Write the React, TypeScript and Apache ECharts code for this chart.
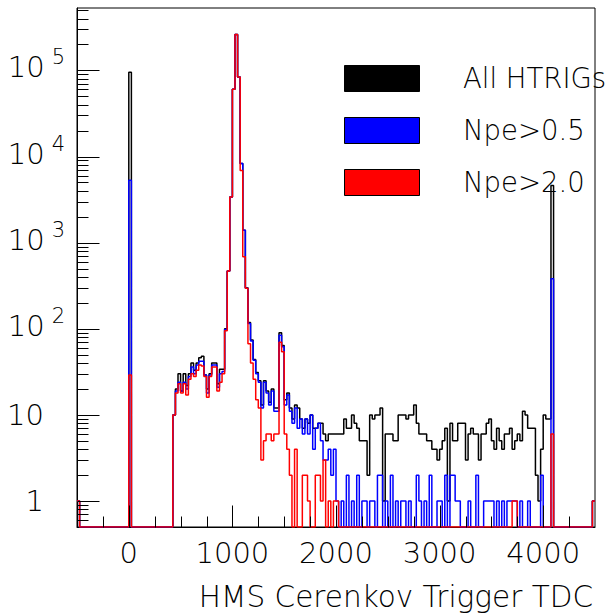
import React, { useEffect, useRef } from 'react';
import * as echarts from 'echarts';

// Histogram binning (TDC channels)
const BIN_LOW = -500;
const BIN_WIDTH = 25;
const X_MIN = -500;
const X_MAX = 4500;
const Y_MIN = 0.5;
const Y_MAX = 530000;

const seriesNames = ['All HTRIGs', 'Npe>0.5', 'Npe>2.0'];
const seriesColors = ['#000000', '#0000ff', '#ff0000'];
const xTitle = 'HMS Cerenkov Trigger TDC';

const xLabelValues = [0, 1000, 2000, 3000, 4000];
const xMajorTicks = [0, 1000, 2000, 3000, 4000];
const xMinorTicks = [-250, 250, 500, 750, 1250, 1500, 1750, 2250, 2500, 2750, 3250, 3500, 3750, 4250];
const yMajorTicks = [1, 10, 100, 1000, 10000, 100000];
const yMinorTicks = [
  0.6, 0.7, 0.8, 0.9,
  2, 3, 4, 5, 6, 7, 8, 9,
  20, 30, 40, 50, 60, 70, 80, 90,
  200, 300, 400, 500, 600, 700, 800, 900,
  2000, 3000, 4000, 5000, 6000, 7000, 8000, 9000,
  20000, 30000, 40000, 50000, 60000, 70000, 80000, 90000,
  200000, 300000, 400000, 500000,
];

// 200 bins, 25 channels wide, from -500 to 4500
const allHtrigs = [
  1, 0, 0, 0, 0, 0, 0, 0, 0, 0,
  0, 0, 0, 0, 0, 0, 0, 0, 0, 0,
  95000, 0, 0, 0, 0, 0, 0, 0, 0, 0,
  0, 0, 0, 0, 0, 0, 0, 10, 20, 30,
  19, 30, 22, 30, 40, 33, 40, 46, 48, 29,
  20, 30, 40, 40, 23, 34, 34, 100, 470, 3400,
  60500, 261000, 84000, 8300, 1390, 300, 118, 74, 44, 31,
  25, 13, 25, 19, 14, 20, 12, 12, 90, 64,
  15, 18, 12, 9, 13, 12, 9, 7, 9, 8,
  10, 7, 7, 8, 8, 6, 5, 6, 6, 6,
  6, 6, 6, 9, 7, 7, 10, 8, 7, 5,
  5, 5, 2, 10, 9, 10, 10, 12, 1, 6,
  6, 6, 5, 5, 10, 10, 10, 9, 10, 10,
  13, 8, 6, 6, 6, 5, 5, 4, 4, 3,
  4, 5, 7, 1, 8, 5, 5, 8, 8, 8,
  3, 6, 7, 6, 6, 3, 6, 6, 8, 9,
  5, 4, 7, 5, 4, 6, 6, 7, 4, 5,
  6, 5, 11, 10, 7, 7, 7, 2, 1, 4,
  10, 9, 9, 4600, 0, 0, 0, 0, 0, 0,
  0, 0, 0, 0, 0, 0, 0, 0, 0, 1,
];

const npeOver05 = [
  1, 0, 0, 0, 0, 0, 0, 0, 0, 0,
  0, 0, 0, 0, 0, 0, 0, 0, 0, 0,
  5300, 0, 0, 0, 0, 0, 0, 0, 0, 0,
  0, 0, 0, 0, 0, 0, 0, 10, 19, 24,
  19, 24, 20, 28, 36, 30, 38, 42, 42, 29,
  18, 29, 38, 38, 21, 30, 32, 98, 470, 3400,
  60500, 261000, 84000, 8300, 1390, 295, 115, 72, 43, 30,
  24, 12, 24, 18, 13, 19, 11, 11, 84, 62,
  13, 17, 11, 8, 12, 7, 9, 6, 9, 6,
  10, 4, 7, 8, 5, 3, 3, 4, 2, 4,
  1, 0, 1, 0, 2, 0, 1, 0, 2, 0,
  1, 1, 0, 1, 1, 0, 2, 2, 0, 1,
  0, 2, 0, 1, 0, 1, 1, 0, 1, 0,
  0, 2, 1, 0, 1, 0, 2, 0, 0, 1,
  1, 0, 2, 0, 2, 2, 1, 1, 0, 0,
  0, 1, 0, 0, 2, 0, 0, 1, 1, 1,
  1, 0, 1, 0, 1, 0, 1, 1, 1, 1,
  0, 1, 0, 0, 1, 0, 0, 0, 0, 2,
  0, 0, 0, 380, 0, 0, 0, 0, 0, 0,
  0, 0, 0, 0, 0, 0, 0, 0, 0, 1,
];

const npeOver20 = [
  1, 0, 0, 0, 0, 0, 0, 0, 0, 0,
  0, 0, 0, 0, 0, 0, 0, 0, 0, 0,
  29, 0, 0, 0, 0, 0, 0, 0, 0, 0,
  0, 0, 0, 0, 0, 0, 0, 10, 18, 23,
  18, 23, 17, 26, 30, 28, 33, 38, 37, 28,
  16, 28, 36, 36, 19, 24, 30, 95, 470, 3400,
  60500, 261000, 84000, 6900, 685, 295, 67, 40, 26, 15,
  12, 3, 5, 6, 6, 5, 6, 6, 70, 54,
  6, 4, 2, 0, 4, 0, 0, 2, 2, 1,
  0, 0, 2, 2, 1, 3, 0, 1, 0, 1,
  1, 0, 0, 0, 0, 0, 0, 0, 0, 0,
  0, 0, 0, 0, 0, 0, 0, 0, 0, 0,
  0, 0, 0, 0, 0, 0, 0, 0, 0, 0,
  0, 0, 0, 0, 0, 0, 0, 0, 0, 0,
  0, 0, 0, 0, 0, 0, 0, 0, 0, 0,
  0, 0, 0, 0, 0, 0, 0, 0, 0, 0,
  0, 0, 0, 0, 0, 0, 0, 0, 1, 1,
  0, 0, 0, 0, 0, 0, 0, 0, 0, 0,
  0, 0, 0, 6, 0, 0, 0, 0, 0, 0,
  0, 0, 0, 0, 0, 0, 0, 0, 0, 1,
];

const FONT = "'DejaVu Sans', sans-serif";
const FW = 200;

function stepPoints(vals: number[]) {
  const pts: number[][] = vals.map((v, i) => [BIN_LOW + i * BIN_WIDTH, v > 0 ? v : Y_MIN]);
  const last = vals[vals.length - 1];
  pts.push([BIN_LOW + vals.length * BIN_WIDTH, last > 0 ? last : Y_MIN]);
  return pts;
}

function tickSeries(data: number[][], horizontal: boolean) {
  return {
    type: 'custom',
    silent: true,
    z: 20,
    clip: false,
    data,
    encode: { x: 0, y: 1 },
    renderItem: (_params: any, api: any) => {
      const p = api.coord([api.value(0), api.value(1)]);
      const len = api.value(2) ? 22 : 11;
      const x = Math.round(p[0]) + 0.5;
      const y = Math.round(p[1]) + 0.5;
      const shape = horizontal
        ? { x1: x, y1: y, x2: x + len, y2: y }
        : { x1: x, y1: y, x2: x, y2: y - len };
      return { type: 'line', shape, style: { stroke: '#000', lineWidth: 1 } };
    },
  };
}

function yLabel(v: number) {
  const e = Math.log10(v);
  const k = Math.round(e);
  if (Math.abs(e - k) > 1e-6 || k < 0) return '';
  if (k === 0) return '{n|1}';
  if (k === 1) return '{n|10}';
  return '{b|10}{s|' + k + '}';
}

export default function App() {
  const ref = useRef<HTMLDivElement>(null);
  useEffect(() => {
    if (!ref.current) return;
    const chart = echarts.init(ref.current, undefined, { renderer: 'svg' });
    const hist = [allHtrigs, npeOver05, npeOver20];
    const xTickData = [
      ...xMajorTicks.map((v) => [v, Y_MIN, 1]),
      ...xMinorTicks.map((v) => [v, Y_MIN, 0]),
    ];
    const yTickData = [
      ...yMajorTicks.map((v) => [X_MIN, v, 1]),
      ...yMinorTicks.map((v) => [X_MIN, v, 0]),
    ];
    const legendTop = [65, 117, 169];
    const graphic: any[] = [];
    seriesNames.forEach((name, i) => {
      graphic.push({
        type: 'rect',
        shape: { x: 344.5, y: legendTop[i] + 0.5, width: 75, height: 26 },
        style: { fill: seriesColors[i], stroke: '#000', lineWidth: 1 },
        z: 30,
      });
      graphic.push({
        type: 'text',
        x: 463,
        y: legendTop[i] + 13,
        style: {
          text: name, fill: '#000', fontSize: 27.5, fontFamily: FONT, fontWeight: FW,
          align: 'left', verticalAlign: 'middle',
        },
        z: 30,
      });
    });
    graphic.push({
      type: 'text',
      x: 593,
      y: 597,
      style: {
        text: xTitle, fill: '#000', fontSize: 29.5, fontFamily: FONT, fontWeight: FW,
        align: 'right', verticalAlign: 'middle',
      },
      z: 30,
    });

    chart.setOption({
      animation: false,
      backgroundColor: '#ffffff',
      grid: {
        left: 77, right: 16, top: 8, bottom: 88,
        show: true, borderColor: '#000', borderWidth: 1, backgroundColor: 'transparent',
        containLabel: false, outerBoundsMode: 'none',
      },
      xAxis: {
        type: 'value', min: X_MIN, max: X_MAX, interval: 500,
        axisLine: { show: true, onZero: false, lineStyle: { color: '#000', width: 1 } },
        axisTick: { show: false },
        splitLine: { show: false },
        axisLabel: {
          margin: 11, color: '#000', fontSize: 29, fontFamily: FONT, fontWeight: FW,
          formatter: (v: number) => (xLabelValues.indexOf(Math.round(v)) >= 0 ? String(Math.round(v)) : ''),
        },
      },
      yAxis: {
        type: 'log', logBase: 10, min: Y_MIN, max: Y_MAX,
        axisLine: { show: true, onZero: false, lineStyle: { color: '#000', width: 1 } },
        axisTick: { show: false },
        splitLine: { show: false },
        minorTick: { show: false },
        axisLabel: {
          margin: 12, color: '#000', fontFamily: FONT, fontWeight: FW,
          showMinLabel: false, showMaxLabel: false,
          formatter: yLabel,
          rich: {
            n: { fontSize: 29, lineHeight: 29, fontFamily: FONT, fontWeight: FW, color: '#000', padding: [0, 21, 0, 0] },
            b: { fontSize: 29, lineHeight: 29, fontFamily: FONT, fontWeight: FW, color: '#000', verticalAlign: 'bottom', padding: [0, 0, 3, 0] },
            s: { fontSize: 21, lineHeight: 21, fontFamily: FONT, fontWeight: FW, color: '#000', verticalAlign: 'bottom', padding: [0, 0, 17, 7] },
          },
        },
      },
      graphic,
      series: [
        ...hist.map((vals, i) => ({
          name: seriesNames[i],
          type: 'line',
          step: 'end',
          data: stepPoints(vals),
          symbol: 'none',
          showSymbol: false,
          z: 2 + i,
          lineStyle: { color: seriesColors[i], width: 1.5 },
          itemStyle: { color: seriesColors[i] },
        })),
        tickSeries(xTickData, false),
        tickSeries(yTickData, true),
      ],
    });
    return () => chart.dispose();
  }, []);
  return <div ref={ref} style={{ position: 'absolute', left: 0, top: 0, width: 611, height: 615 }} />;
}
